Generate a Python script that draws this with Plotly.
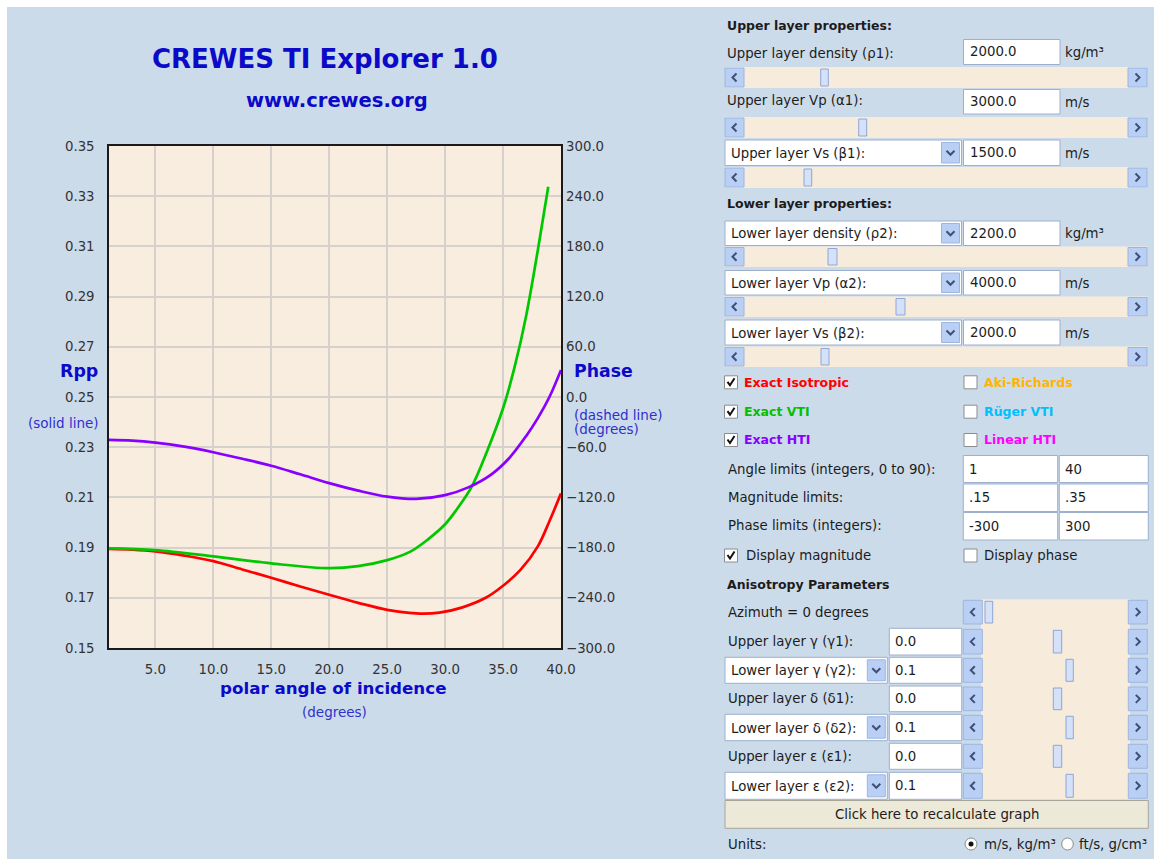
import plotly.graph_objects as go

# ---------------- data ----------------
angle_iso = [1, 3, 5, 7.5, 10, 12.5, 15, 17.5, 20, 22.5, 25, 27.5, 29.5, 31.5, 33.5, 35, 36.5, 38, 39, 40]
rpp_iso = [0.1895, 0.1892, 0.1885, 0.1868, 0.1846, 0.1813, 0.1780, 0.1745, 0.1712, 0.1680, 0.1652,
           0.1638, 0.1641, 0.1662, 0.1700, 0.1748, 0.1811, 0.1905, 0.2005, 0.2116]

angle_vti = [1, 5, 10, 15, 20, 22.5, 25, 27, 28.5, 30, 31, 32.3, 33.5, 35, 36, 37, 38, 38.9]
rpp_vti = [0.1897, 0.1890, 0.1865, 0.1837, 0.1818, 0.1826, 0.1850, 0.1884, 0.1932, 0.1993, 0.2052,
           0.2143, 0.2270, 0.2455, 0.2620, 0.2825, 0.3085, 0.3338]

angle_hti = [1, 3, 5, 7.5, 10, 12.5, 15, 17.5, 20, 22.5, 25, 27.5, 30, 32, 34, 35.5, 37, 38, 39, 40]
rpp_hti = [0.2329, 0.2326, 0.2318, 0.2302, 0.2280, 0.2254, 0.2226, 0.2192, 0.2157, 0.2127, 0.2103,
           0.2094, 0.2109, 0.2140, 0.2192, 0.2255, 0.2345, 0.2416, 0.2500, 0.2608]

angle_ticks = [5, 10, 15, 20, 25, 30, 35, 40]
rpp_ticks = [0.15, 0.17, 0.19, 0.21, 0.23, 0.25, 0.27, 0.29, 0.31, 0.33, 0.35]
phase_ticks = [-300, -240, -180, -120, -60, 0, 60, 120, 180, 240, 300]

# ---------------- styling ----------------
BG = "#ccdbea"
PLOTBG = "#f9eddf"
GRID = "#d6d1cb"
TITLE_BLUE = "#0a0ac8"
SMALL_BLUE = "#3030cc"
TXT = "#1c1c1c"
TRACK = "#f7ebdb"
BTN = "#b9cff4"
BTN_LINE = "#9db6e0"
ARROW = "#3f5078"
THUMB = "#d5e1f8"
THUMB_LINE = "#8ea7d6"
BOX_LINE = "#9cb0ce"
FONT = "DejaVu Sans"

W, H = 1154, 859
PL, PT, PR, PB = 109, 146, 561, 648   # plot area in screen pixels


def px(X):
    return (X - PL) / (PR - PL)


def py(Y):
    return (PB - Y) / (PB - PT)


shapes = []
annots = []


def rect(x0, y0, x1, y1, fill, line=None, lw=1, layer="above"):
    shapes.append(dict(type="rect", xref="paper", yref="paper",
                       x0=px(x0), x1=px(x1), y0=py(y1), y1=py(y0),
                       fillcolor=fill,
                       line=dict(color=line if line else fill, width=lw if line else 0),
                       layer=layer))


def circle(x0, y0, x1, y1, fill, line=None, lw=1):
    shapes.append(dict(type="circle", xref="paper", yref="paper",
                       x0=px(x0), x1=px(x1), y0=py(y1), y1=py(y0),
                       fillcolor=fill,
                       line=dict(color=line if line else fill, width=lw if line else 0),
                       layer="above"))


def path(points, color, lw=2):
    d = "M " + " L ".join(f"{px(x):.5f},{py(y):.5f}" for x, y in points)
    shapes.append(dict(type="path", xref="paper", yref="paper", path=d,
                       line=dict(color=color, width=lw), fillcolor="rgba(0,0,0,0)",
                       layer="above"))


def text(X, Y, s, size=13.3, color=TXT, bold=False, anchor="left"):
    annots.append(dict(xref="paper", yref="paper", x=px(X), y=py(Y),
                       text=f"<b>{s}</b>" if bold else s, showarrow=False,
                       xanchor=anchor, yanchor="middle", borderpad=0,
                       font=dict(family=FONT, size=size, color=color)))


def button(x0, y0, x1, y1, direction):
    rect(x0, y0, x1, y1, BTN, BTN_LINE, 1)
    cx, cy = (x0 + x1) / 2, (y0 + y1) / 2
    if direction == "left":
        pts = [(cx + 2, cy - 4), (cx - 2, cy), (cx + 2, cy + 4)]
    elif direction == "right":
        pts = [(cx - 2, cy - 4), (cx + 2, cy), (cx - 2, cy + 4)]
    else:
        pts = [(cx - 4, cy - 2), (cx, cy + 2), (cx + 4, cy - 2)]
    path(pts, ARROW, 2)


def scrollbar(x0, x1, y0, y1, t0, t1, track=True):
    if track:
        rect(x0, y0, x1, y1, TRACK)
    button(x0, y0 + 1, x0 + 19, y1 - 1, "left")
    button(x1 - 19, y0 + 1, x1, y1 - 1, "right")
    rect(t0, y0 + 2, t1, y1 - 2, THUMB, THUMB_LINE, 1)


def combo(x0, x1, y0, y1, label):
    rect(x0, y0, x1, y1, "white", BOX_LINE, 1)
    button(x1 - 20, y0 + 2.5, x1 - 2, y1 - 2.5, "down")
    text(x0 + 5, (y0 + y1) / 2 + 0.5, label)


def tbox(x0, x1, y0, y1, val):
    rect(x0, y0, x1, y1, "white", BOX_LINE, 1)
    text(x0 + 5, (y0 + y1) / 2, val)


def checkbox(x, cy, checked):
    rect(x, cy - 6.5, x + 13, cy + 6.5, "white", "#8d8d8d", 1)
    if checked:
        path([(x + 3, cy - 0.5), (x + 5.5, cy + 3), (x + 10, cy - 4)], "#111111", 2)


# white frame around the applet (top and left)
rect(0, 0, 7, H, "white", layer="below")
rect(0, 0, W, 7, "white", layer="below")

# ---------------- left: titles / axis captions ----------------
text(325, 59.5, "CREWES TI Explorer 1.0", 26, TITLE_BLUE, True, "center")
text(336.7, 100, "www.crewes.org", 19.5, TITLE_BLUE, True, "center")
text(78.5, 370.7, "Rpp", 17.4, TITLE_BLUE, True, "center")
text(63.8, 422.7, "(solid line)", 13.5, SMALL_BLUE, False, "center")
text(572.5, 370.7, "Phase", 17.3, TITLE_BLUE, True)
text(573, 415, "(dashed line)", 13.5, SMALL_BLUE)
text(573, 429.5, "(degrees)", 13.5, SMALL_BLUE)
text(333, 688.3, "polar angle of incidence", 16.7, TITLE_BLUE, True, "center")
text(334.9, 711.7, "(degrees)", 13.5, SMALL_BLUE, False, "center")

# ---------------- right: layer properties ----------------
text(726, 25, "Upper layer properties:", 12.5, TXT, True)
upper_rows = [
    ("label", "Upper layer density (ρ1):", "2000.0", "kg/m³", 39.5, 64.5, 54, 67, 88, 820.7, 828.3),
    ("label", "Upper layer Vp (α1):", "3000.0", "m/s", 89.5, 114, 100.5, 117, 138, 858.7, 866.7),
    ("combo", "Upper layer Vs (β1):", "1500.0", "m/s", 140, 165.5, 153, 167, 188, 804, 811.7),
]
text(726, 203.5, "Lower layer properties:", 12.5, TXT, True)
lower_rows = [
    ("combo", "Lower layer density (ρ2):", "2200.0", "kg/m³", 221, 245.5, 233.5, 246.5, 267, 828, 837),
    ("combo", "Lower layer Vp (α2):", "4000.0", "m/s", 270.5, 295, 283, 296.5, 317, 896, 905),
    ("combo", "Lower layer Vs (β2):", "2000.0", "m/s", 320, 345, 332.5, 346.5, 367, 821, 829),
]
for kind, lab, val, unit, by0, by1, ly, sy0, sy1, t0, t1 in upper_rows + lower_rows:
    if kind == "combo":
        combo(725, 961.5, by0, by1, lab)
    else:
        text(726, ly, lab)
    tbox(963.5, 1060, by0, by1, val)
    text(1064, (by0 + by1) / 2 + 0.5, unit)
    scrollbar(725, 1147, sy0, sy1, t0, t1)

# ---------------- checkboxes ----------------
checks = [
    (382.3, "Exact Isotropic", "#ff0000", True, "Aki-Richards", "#ffb400"),
    (411.7, "Exact VTI", "#00c000", True, "Rüger VTI", "#00bfff"),
    (440.0, "Exact HTI", "#8800ff", True, "Linear HTI", "#ff00ff"),
]
for cy, l1, c1, chk, l2, c2 in checks:
    checkbox(724.5, cy, chk)
    text(743, cy, l1, 12.5, c1, True)
    checkbox(964, cy, False)
    text(982.7, cy, l2, 12.5, c2, True)

limits = [
    (469, "Angle limits (integers, 0 to 90):", "1", "40", 455.5, 482.5),
    (497.5, "Magnitude limits:", ".15", ".35", 484, 511.5),
    (525.7, "Phase limits (integers):", "-300", "300", 512.5, 540),
]
for ly, lab, v1, v2, y0, y1 in limits:
    text(726.7, ly, lab)
    tbox(963.3, 1057.7, y0, y1, v1)
    tbox(1059.3, 1148.3, y0, y1, v2)

checkbox(724.5, 555.5, True)
text(745, 555.5, "Display magnitude")
checkbox(964, 555.5, False)
text(983.3, 555.5, "Display phase")

# ---------------- anisotropy ----------------
text(726, 584, "Anisotropy Parameters", 12.5, TXT, True)
rect(981, 599.3, 1130, 799.3, TRACK)
aniso_rows = [
    ("plain", "Azimuth = 0 degrees", None, 599.3, 625.0, 985.0, 992.7),
    ("plain", "Upper layer γ (γ1):", "0.0", 628.3, 655.0, 1053.3, 1061.7),
    ("combo", "Lower layer γ (γ2):", "0.1", 657.3, 683.3, 1066.0, 1073.3),
    ("plain", "Upper layer δ (δ1):", "0.0", 686.0, 711.7, 1053.3, 1061.7),
    ("combo", "Lower layer δ (δ2):", "0.1", 714.3, 740.7, 1066.0, 1073.3),
    ("plain", "Upper layer ε (ε1):", "0.0", 743.3, 769.3, 1053.3, 1061.7),
    ("combo", "Lower layer ε (ε2):", "0.1", 772.3, 799.3, 1066.0, 1073.3),
]
for kind, lab, val, y0, y1, t0, t1 in aniso_rows:
    cy = (y0 + y1) / 2
    if kind == "combo":
        combo(725, 887.3, y0, y1, lab)
    else:
        text(726.7, cy, lab)
    if val is not None:
        tbox(889.3, 961.7, y0, y1, val)
    scrollbar(963.3, 1147.3, y0, y1, t0, t1, track=False)

rect(725, 800.5, 1148.3, 828.3, "#ece9d8", "#a7a69a", 1)
text(936.7, 814.5, "Click here to recalculate graph", 13.3, TXT, False, "center")

text(726.7, 844, "Units:")
circle(965, 838, 977, 850, "white", "#8d8d8d", 1)
circle(968.5, 841.5, 973.5, 846.5, "#111111")
text(982.7, 844, "m/s, kg/m³")
circle(1061.7, 838, 1073.3, 850, "white", "#8d8d8d", 1)
text(1078.3, 844, "ft/s, g/cm³")

# ---------------- figure ----------------
fig = go.Figure()
fig.add_trace(go.Scatter(x=angle_iso, y=rpp_iso, mode="lines", name="Exact Isotropic",
                         line=dict(color="#ff0000", width=2.7, shape="spline"), hoverinfo="skip"))
fig.add_trace(go.Scatter(x=angle_vti, y=rpp_vti, mode="lines", name="Exact VTI",
                         line=dict(color="#00c800", width=2.7, shape="spline"), hoverinfo="skip"))
fig.add_trace(go.Scatter(x=angle_hti, y=rpp_hti, mode="lines", name="Exact HTI",
                         line=dict(color="#8800ff", width=2.7, shape="spline"), hoverinfo="skip"))
fig.add_trace(go.Scatter(x=[], y=[], yaxis="y2", mode="lines", hoverinfo="skip", showlegend=False))

TICK_FONT = dict(family=FONT, size=13.3, color="#333333")
fig.update_layout(
    width=W, height=H,
    margin=dict(l=PL, r=W - PR, t=PT, b=H - PB, pad=0),
    paper_bgcolor=BG, plot_bgcolor=PLOTBG,
    showlegend=False, hovermode=False,
    xaxis=dict(range=[1, 40], tickvals=angle_ticks, tickformat=".1f", showgrid=True,
               gridcolor=GRID, gridwidth=1.5, zeroline=False, showline=True,
               linecolor="#1a1a1a", linewidth=1.5, mirror=True, ticks="",
               tickfont=TICK_FONT, ticklabelstandoff=8, fixedrange=True),
    yaxis=dict(range=[0.15, 0.35], tickvals=rpp_ticks, tickformat=".2f", showgrid=True,
               gridcolor=GRID, gridwidth=1.5, zeroline=False, showline=True,
               linecolor="#1a1a1a", linewidth=1.5, mirror=True, ticks="",
               tickfont=TICK_FONT, ticklabelstandoff=10, fixedrange=True),
    yaxis2=dict(range=[-300, 300], tickvals=phase_ticks, tickformat=".1f", overlaying="y",
                side="right", showgrid=False, zeroline=False, showline=False, ticks="",
                tickfont=TICK_FONT, ticklabelstandoff=4, fixedrange=True),
    shapes=shapes,
    annotations=annots,
)

fig.write_html("out.html", config={"displayModeBar": False},
               post_script="document.body.style.margin='0px';")
